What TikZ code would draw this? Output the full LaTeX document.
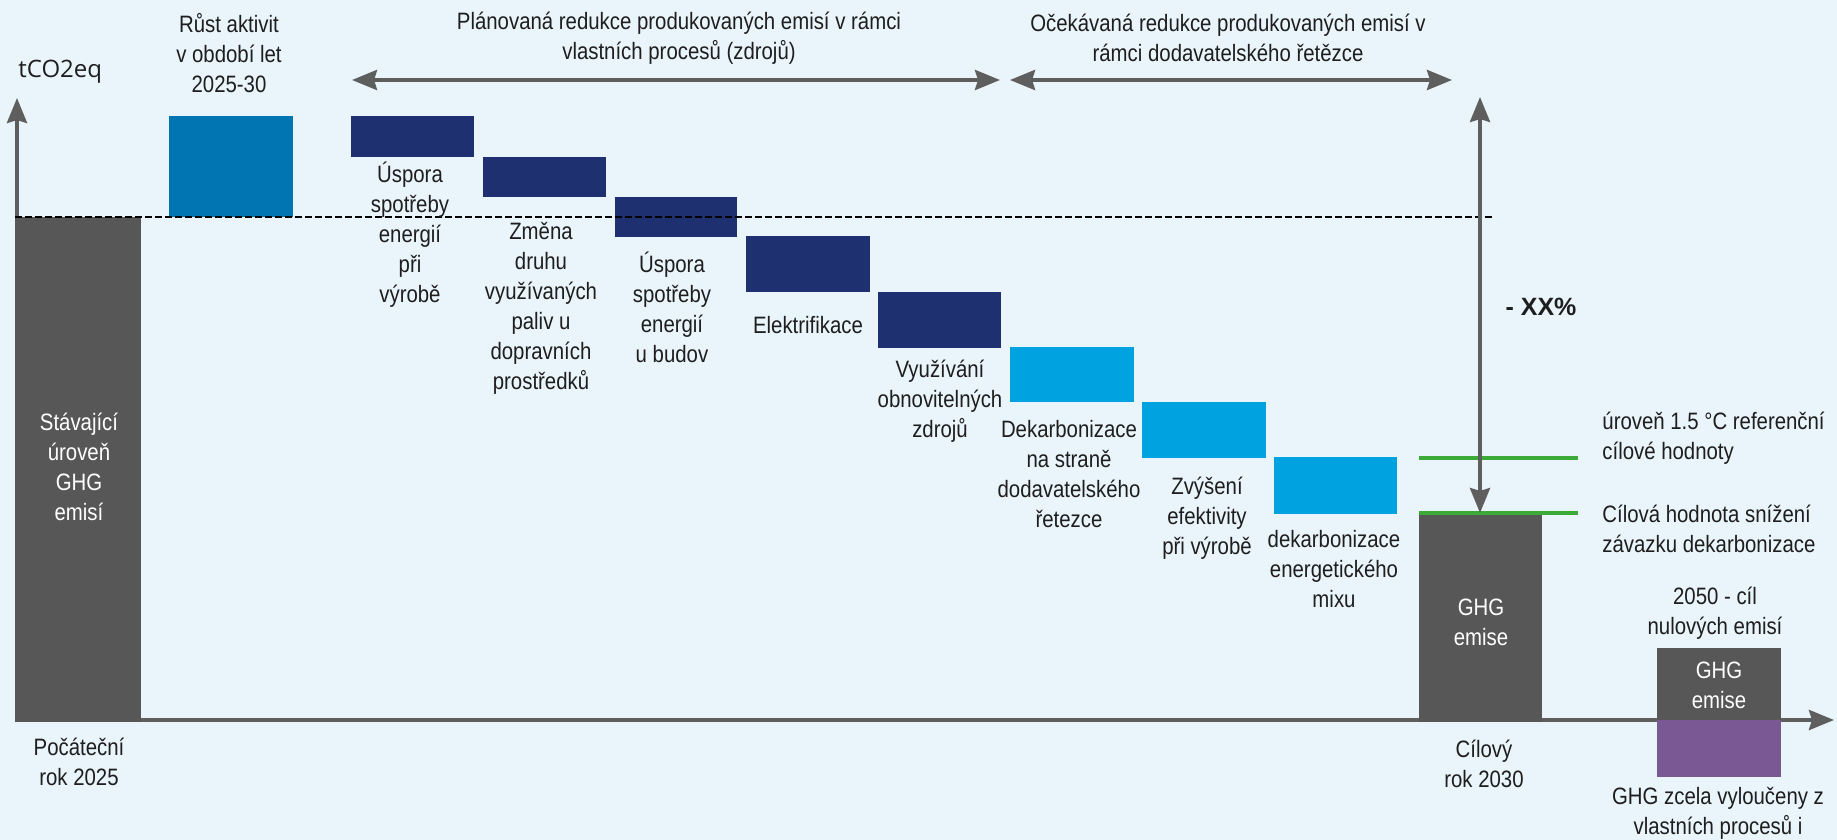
\documentclass[tikz,border=0pt]{standalone}
\usepackage{fontspec}
\setmainfont[FakeStretch=0.86]{Liberation Sans}
\newfontfamily\boldfont{Liberation Sans}
\newfontfamily\axisfont{Open Sans}
\usetikzlibrary{arrows.meta}
\definecolor{bg}{HTML}{EAF5FB}
\definecolor{bargrey}{HTML}{575757}
\definecolor{arrgrey}{HTML}{5E5E5E}
\definecolor{navy}{HTML}{1F3071}
\definecolor{growth}{HTML}{0075B2}
\definecolor{lblue}{HTML}{00A3E0}
\definecolor{lgreen}{HTML}{3CAA36}
\definecolor{purp}{HTML}{7A5893}
\definecolor{txt}{HTML}{1E1E1E}
\tikzset{
  lbl/.style={inner sep=0pt, align=center, text=txt, font=\fontsize{11.85}{15}\selectfont},
  lblw/.style={lbl, text=white},
  lbll/.style={lbl, align=left, anchor=west},
  arr/.style={draw=arrgrey, line width=2pt, -{Stealth[length=12.5pt,width=10pt,inset=1.5pt]}},
  darr/.style={draw=arrgrey, line width=2pt, {Stealth[length=12.5pt,width=10pt,inset=1.5pt]}-{Stealth[length=12.5pt,width=10pt,inset=1.5pt]}},
  greenline/.style={draw=lgreen, line width=2.4pt},
  baseline dash/.style={draw=black, line width=1pt, dash pattern=on 3.3pt off 1.7pt}
}
\begin{document}
\begin{tikzpicture}[x=0.5pt,y=-0.5pt]
\fill[bg] (0,0) rectangle (1837,840);
\useasboundingbox (0,0) rectangle (1837,840);

% axes coordinates
\coordinate (origin) at (17,720);
\coordinate (ytip) at (17,98);
\coordinate (xstart) at (15,720);
\coordinate (xtip) at (1834,720);
\draw[arr] (origin) -- (ytip);
\draw[arr] (xstart) -- (xtip);

% bars
\fill[bargrey] (15,217) rectangle (141,722);
\fill[growth] (169,116) rectangle (293,217);
\fill[navy] (351,116) rectangle (474,157);
\fill[navy] (483,157) rectangle (606,197);
\fill[navy] (615,197) rectangle (737,237);
\fill[navy] (746,236) rectangle (870,292);
\fill[navy] (878,292) rectangle (1001,348);
\fill[lblue] (1010,347) rectangle (1134,402);
\fill[lblue] (1142,402) rectangle (1266,458);
\fill[lblue] (1274,457) rectangle (1397,514);
\fill[bargrey] (1419,513) rectangle (1542,722);
\fill[bargrey] (1657,648) rectangle (1781,720);
\fill[purp] (1657,720) rectangle (1781,777);

% green target lines
\coordinate (g1a) at (1419,458);
\coordinate (g1b) at (1578,458);
\coordinate (g2a) at (1419,513);
\coordinate (g2b) at (1578,513);
\draw[greenline] (g1a) -- (g1b);
\draw[greenline] (g2a) -- (g2b);

% dashed baseline
\coordinate (da) at (15,217);
\coordinate (db) at (1492,217);
\draw[baseline dash] (da) -- (db);

% range arrows
\coordinate (r1a) at (352,80);
\coordinate (r1b) at (1000,80);
\coordinate (r2a) at (1010,80);
\coordinate (r2b) at (1452,80);
\draw[darr] (r1a) -- (r1b);
\draw[darr] (r2a) -- (r2b);

% reduction arrow
\coordinate (va) at (1480,97);
\coordinate (vb) at (1480,513);
\draw[darr] (va) -- (vb);

% texts
\node[anchor=west, inner sep=0pt, text=txt, font=\axisfont\fontsize{12}{15}\selectfont] (unit) at (18,72) {tCO2eq};
\node[lbl] (tgrowth) at (229,53) {Růst aktivit\\v období let\\2025-30};
\node[lbl] (tplan) at (679,38) {Plánovaná redukce produkovaných emisí v rámci\\vlastních procesů (zdrojů)};
\node[lbl] (texp) at (1228,38) {Očekávaná redukce produkovaných emisí v\\rámci dodavatelského řetězce};
\node[lbl] (t1) at (410,235) {Úspora\\spotřeby\\energií\\při\\výrobě};
\node[lbl] (t2) at (541,308) {Změna\\druhu\\využívaných\\paliv u\\dopravních\\prostředků};
\node[lbl] (t3) at (672,307) {Úspora\\spotřeby\\energií\\u budov};
\node[lbl] (t4) at (808,325) {Elektrifikace};
\node[lbl] (t5) at (940,401) {Využívání\\obnovitelných\\zdrojů};
\node[lbl] (t6) at (1069,474) {Dekarbonizace\\na straně\\dodavatelského\\řetezce};
\node[lbl] (t7) at (1207,518) {Zvýšení\\efektivity\\při výrobě};
\node[lbl] (t8) at (1334,569) {dekarbonizace\\energetického\\mixu};
\node[lblw] (tcur) at (79,467) {Stávající\\úroveň\\GHG\\emisí};
\node[lbl] (tstart) at (79,762) {Počáteční\\rok 2025};
\node[lblw] (t2030) at (1481,622) {GHG\\emise};
\node[lbl] (ttarget) at (1484,764) {Cílový\\rok 2030};
\node[inner sep=0pt, text=txt, font=\boldfont\bfseries\fontsize{12.5}{15}\selectfont] (txx) at (1541,307) {- XX\%};
\node[lbll] (tref) at (1602,438) {úroveň 1.5 °C referenční\\cílové hodnoty};
\node[lbll] (tcommit) at (1602,529) {Cílová hodnota snížení\\závazku dekarbonizace};
\node[lbl] (t2050) at (1715,613) {2050 - cíl\\nulových emisí};
\node[lblw] (tghg2050) at (1719,685) {GHG\\emise};
\node[lbl] (texcl) at (1718,813) {GHG zcela vyloučeny z\\vlastních procesů i};
\end{tikzpicture}
\end{document}
